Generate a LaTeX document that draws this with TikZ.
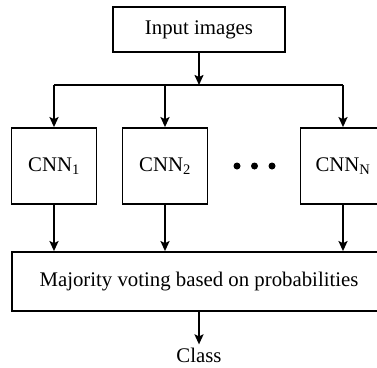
\documentclass[tikz,border=0pt]{standalone}
\usepackage{fontspec}
\setmainfont{Liberation Serif}
\usetikzlibrary{arrows.meta}
\begin{document}
\begin{tikzpicture}[x=1pt,y=-1pt,
  box/.style={draw, line width=1.8pt, inner sep=0pt, align=center},
  cnnbox/.style={box, minimum width=85pt, minimum height=76pt},
  arr/.style={-{Stealth[length=10pt,width=9pt,inset=2pt]}, line width=1.8pt},
  ln/.style={line width=1.8pt},
  dot/.style={circle, fill, inner sep=0pt, minimum size=7pt},
  font=\fontsize{20.8}{24}\selectfont]
\useasboundingbox (0,0) rectangle (377,367);
\clip (0,0) rectangle (377,367);
\node[box, minimum width=172pt, minimum height=45pt] (in) at (199,29.5) {Input images};
\coordinate (split) at (199,85);
\node[cnnbox] (c1) at (54,166) {CNN\textsubscript{1}};
\node[cnnbox] (c2) at (165,166) {CNN\textsubscript{2}};
\node[cnnbox] (cN) at (343,166) {CNN\textsubscript{N}};
\node[dot] (d1) at (237,166) {};
\node[dot] (d2) at (254.5,166) {};
\node[dot] (d3) at (272,166) {};
\node[box, minimum width=374pt, minimum height=59pt] (mv) at (199,281.5) {Majority voting based on probabilities};
\node[inner sep=0pt, anchor=base] (cls) at (199,362) {Class};
\draw[arr] (in) -- (split);
\draw[ln] (split -| c1) -- (split -| cN);
\draw[arr] (split -| c1) -- (c1);
\draw[arr] (split -| c2) -- (c2);
\draw[arr] (split -| cN) -- (cN);
\draw[arr] (c1) -- (c1 |- mv.north);
\draw[arr] (c2) -- (c2 |- mv.north);
\draw[arr] (cN) -- (cN |- mv.north);
\draw[arr, shorten >=3pt] (mv) -- (cls);
\end{tikzpicture}
\end{document}
